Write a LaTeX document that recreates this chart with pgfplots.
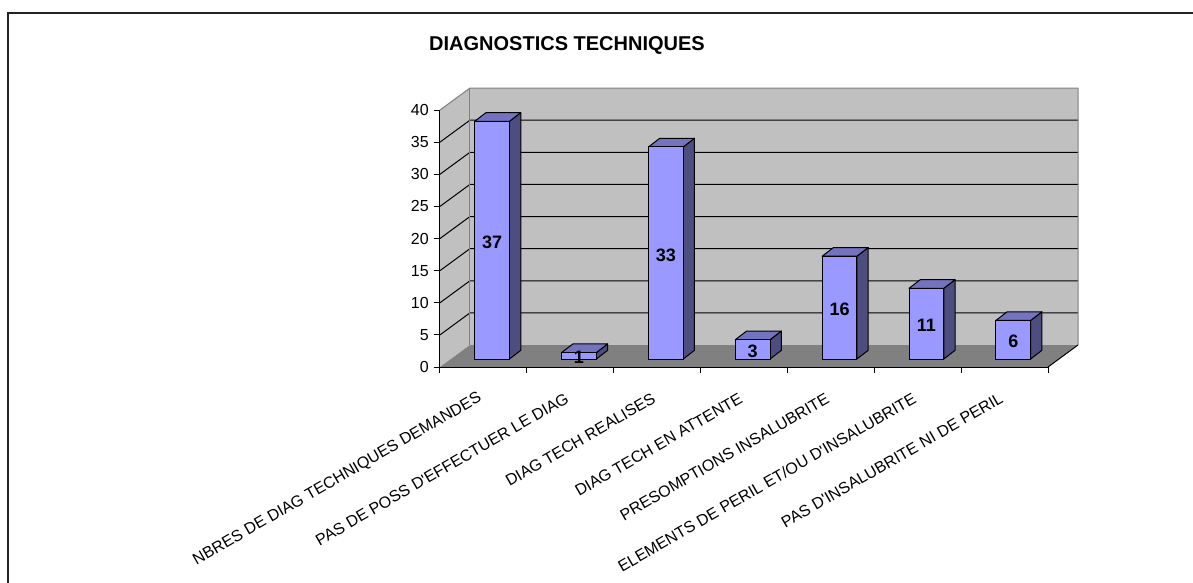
\documentclass[border=0pt]{standalone}
\usepackage{fontspec}
\setmainfont{Liberation Sans}[Ligatures=TeXOff]
\usepackage{pgfplots}
\usepackage{pgfplotstable}
\pgfplotsset{compat=1.18}
\definecolor{barfrontc}{HTML}{9999FF}
\definecolor{barsidec}{HTML}{4D4D80}
\definecolor{bartopc}{HTML}{7373BF}
\definecolor{wallc}{HTML}{C0C0C0}
\definecolor{floorc}{HTML}{808080}
\definecolor{edgec}{HTML}{808080}
\definecolor{framec}{HTML}{222222}

\pgfplotstableread{
i v
0 37
1 1
2 33
3 3
4 16
5 11
6 6
}\diagdata

\newcommand\drawbar[2]{%
 \pgfmathsetmacro\xa{#1+0.40}%
 \pgfmathsetmacro\xb{#1+0.80}%
 \pgfmathsetmacro\xc{#1+0.93}%
 \pgfmathsetmacro\xd{#1+0.53}%
 \pgfmathsetmacro\yb{1.245+#2}%
 \pgfmathsetmacro\yd{2.595+#2}%
 \edef\tmp{%
  \noexpand\addplot[fill=barsidec,draw=black,line width=1bp,line join=round] coordinates {(\xb,1.245) (\xc,2.595) (\xc,\yd) (\xb,\yb)} -- cycle;%
  \noexpand\addplot[fill=bartopc,draw=black,line width=1bp,line join=round] coordinates {(\xa,\yb) (\xb,\yb) (\xc,\yd) (\xd,\yd)} -- cycle;%
  \noexpand\addplot[fill=barfrontc,draw=black,line width=1bp,line join=round] coordinates {(\xa,1.245) (\xb,1.245) (\xb,\yb) (\xa,\yb)} -- cycle;%
 }\tmp}

\begin{document}
\begin{tikzpicture}
\useasboundingbox (-440bp,-216bp) rectangle (753bp,367bp);
\begin{axis}[
 at={(0,0)}, anchor=south west,
 scale only axis, width=608bp, height=257bp,
 xmin=0, xmax=7, ymin=0, ymax=40,
 clip=false,
 axis on top,
 axis x line*=bottom, axis y line*=left,
 axis line style={line width=1bp, black},
 xtick={0,...,7}, xticklabels={},
 ytick={0,5,...,40},
 tick align=outside,
 major tick length=6bp,
 tick style={line width=1bp, black},
 /pgf/number format/assume math mode=true,
 tick label style={font=\fontsize{16bp}{16bp}\selectfont},
 yticklabel style={inner sep=0pt, xshift=-5bp},
 extra x ticks={0.5,1.5,...,6.5},
 extra x tick labels={NBRES DE DIAG TECHNIQUES DEMANDES,PAS DE POSS D'EFFECTUER LE DIAG,DIAG TECH REALISES,DIAG TECH EN ATTENTE,PRESOMPTIONS INSALUBRITE,ELEMENTS DE PERIL ET/OU D'INSALUBRITE,PAS D'INSALUBRITE NI DE PERIL},
 extra x tick style={major tick length=0pt},
 xticklabel style={yshift=-30bp, xshift=-3bp, rotate=30, anchor=east, inner sep=0pt},
 title={DIAGNOSTICS TECHNIQUES},
 title style={at={(0.2089,1.2278)}, anchor=center, font=\bfseries\fontsize{20bp}{20bp}\selectfont},
]
% walls and floor
\fill[wallc] (axis cs:0,0) -- (axis cs:0.3454,3.424) -- (axis cs:0.3454,43.424) -- (axis cs:0,40) -- cycle;
\fill[wallc] (axis cs:0.3454,3.424) rectangle (axis cs:7.3454,43.424);
\fill[floorc] (axis cs:0,0) -- (axis cs:7,0) -- (axis cs:7.3454,3.424) -- (axis cs:0.3454,3.424) -- cycle;
\pgfplotsinvokeforeach{5,10,...,35}{%
 \draw[black, line width=1bp] (axis cs:0,#1) -- (axis cs:0.3454,#1+3.424) -- (axis cs:7.3454,#1+3.424);}
\draw[edgec, line width=1bp] (axis cs:0,40) -- (axis cs:0.3454,43.424) -- (axis cs:7.3454,43.424) -- (axis cs:7.3454,3.424);
\draw[edgec, line width=1bp] (axis cs:0.3454,3.424) -- (axis cs:0.3454,43.424);
\draw[black, line width=1bp] (axis cs:7,0) -- (axis cs:7.3454,3.424);
% bars
\pgfplotsinvokeforeach{0,...,6}{%
 \pgfplotstablegetelem{#1}{v}\of\diagdata
 \let\val\pgfplotsretval
 \drawbar{#1}{\val}}
% data labels
\addplot[draw=none, mark=none, nodes near coords, point meta=explicit,
 every node near coord/.append style={anchor=center, yshift=-2bp, font=\bfseries\fontsize{18bp}{18bp}\selectfont, inner sep=0pt}]
 table[x expr=\thisrow{i}+0.60, y expr=\thisrow{v}/2+1.245, meta=v] {\diagdata};
\end{axis}
\draw[line width=1.3bp, framec] (-432bp,-216bp) -- (-432bp,354bp) -- (753bp,354bp);
\end{tikzpicture}
\end{document}
